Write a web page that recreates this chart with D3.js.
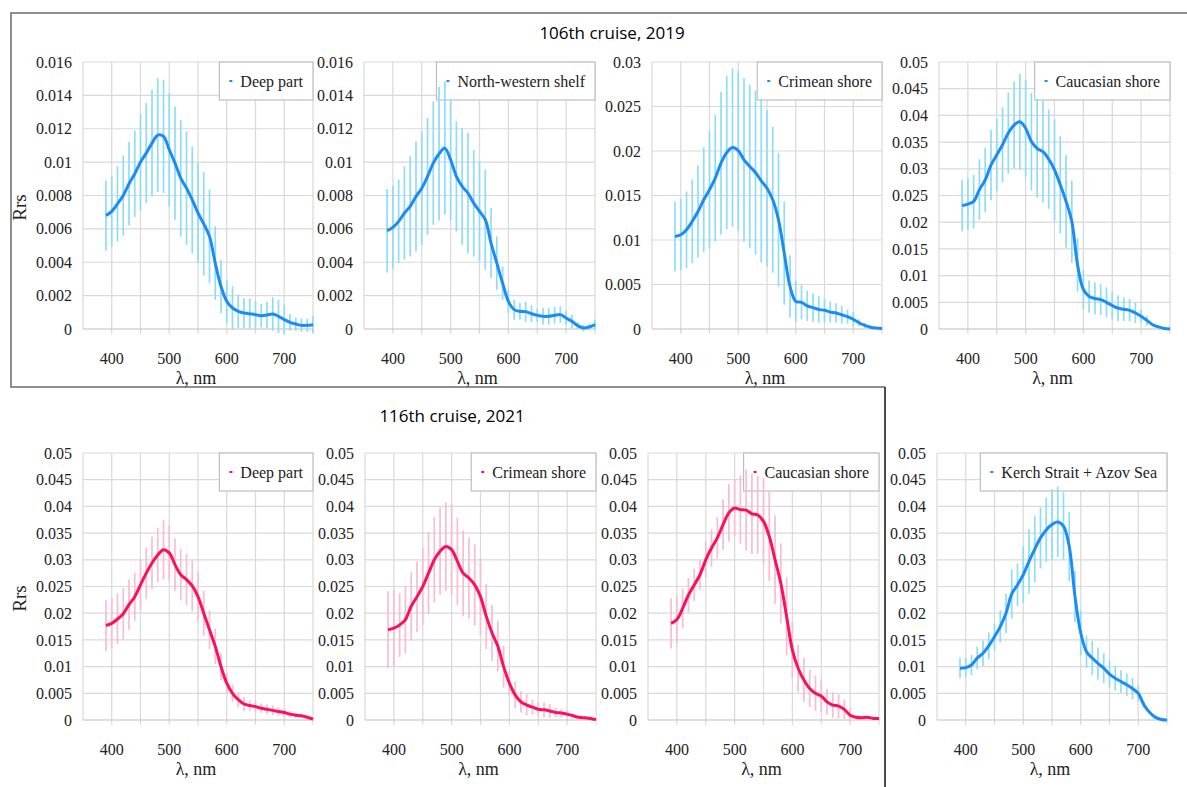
<!doctype html>
<meta charset="utf-8">
<title>Rrs spectra, 106th and 116th cruises</title>
<style>
body { margin: 0; background: #fff; }
svg text { font-family: "Liberation Serif", serif; }
svg text.title { font-family: "Open Sans", sans-serif; font-size: 17px; }
</style>
<script src="https://cdn.jsdelivr.net/npm/d3@7"></script>
<body>
<svg id="chart" width="1187" height="787"></svg>
<script>
// wavelength categories, nm
var wavelengths = [390,400,410,420,430,440,450,460,470,480,490,500,510,520,530,540,550,560,570,580,
                   590,600,610,620,630,640,650,660,670,680,690,700,710,720,730,740,750];

// 106th cruise, 2019
var deep2019Mean = [0.0068,0.00705,0.0075,0.0080,0.0087,0.0093,0.0100,0.01054,0.01114,0.01162,0.01154,0.01074,0.00994,0.00904,0.00844,0.00774,0.00695,0.0063,0.00555,0.00395,
                    0.00255,0.00166,0.00126,0.00106,0.00096,0.00092,0.00086,0.0008,0.00084,0.0009,0.00076,0.00056,0.0004,0.0003,0.00022,0.00022,0.00026];
var deep2019Sd   = [0.0021,0.0021,0.00225,0.0024,0.0025,0.0026,0.0029,0.0030,0.0032,0.0034,0.0034,0.0034,0.0034,0.0035,0.0034,0.0032,0.0030,0.0031,0.0028,0.0022,
                    0.0016,0.0013,0.0013,0.0010,0.0009,0.0009,0.0008,0.0007,0.0008,0.0010,0.0010,0.0009,0.0005,0.0004,0.0004,0.0004,0.0005];

var nwShelf2019Mean = [0.00589,0.00609,0.00645,0.00695,0.00735,0.00794,0.00844,0.00914,0.00994,0.0105,0.01084,0.01014,0.00914,0.00854,0.00814,0.00754,0.00705,0.00655,0.00515,0.00395,
                       0.00275,0.00166,0.00116,0.00106,0.00104,0.00092,0.00082,0.00076,0.00076,0.00082,0.00086,0.00066,0.00046,0.0002,0.00006,0.00012,0.00026];
var nwShelf2019Sd   = [0.0025,0.0025,0.0025,0.0028,0.0030,0.0033,0.0034,0.0035,0.0037,0.0040,0.0040,0.0036,0.0033,0.0035,0.0036,0.0032,0.0030,0.0030,0.0021,0.0016,
                       0.0010,0.0007,0.0006,0.0005,0.0006,0.0005,0.0004,0.0005,0.0005,0.0005,0.0005,0.0004,0.0004,0.0002,0.0002,0.0002,0.0003];

var crimea2019Mean = [0.0104,0.01059,0.01115,0.0121,0.0132,0.01452,0.01564,0.01695,0.01863,0.01983,0.02039,0.02005,0.019,0.01826,0.01758,0.01665,0.01582,0.01452,0.01227,0.00853,
                      0.00479,0.0031,0.0030,0.0026,0.0024,0.0022,0.0021,0.0019,0.0018,0.0016,0.0014,0.0011,0.0007,0.0004,0.0002,0.0001,0.00005];
var crimea2019Sd   = [0.0039,0.0040,0.0043,0.0047,0.0052,0.0059,0.0066,0.0071,0.0080,0.0086,0.0089,0.0090,0.0092,0.0092,0.0092,0.0092,0.0088,0.0082,0.0075,0.0058,
                      0.0035,0.0023,0.0019,0.0017,0.0016,0.0015,0.0013,0.0012,0.0011,0.0010,0.0008,0.0008,0.0004,0.0003,0.0002,0.0001,0.0001];

var caucasus2019Mean = [0.0231,0.0234,0.0239,0.0261,0.0279,0.0307,0.0326,0.0345,0.0367,0.0382,0.0388,0.0376,0.0351,0.0338,0.0332,0.0318,0.0298,0.0270,0.0239,0.0201,
                        0.0120,0.0074,0.0061,0.0057,0.0055,0.0050,0.0044,0.0039,0.0037,0.0035,0.0030,0.0024,0.0016,0.0008,0.0004,0.0001,0.0];
var caucasus2019Sd   = [0.0048,0.0048,0.0050,0.0057,0.0060,0.0066,0.0068,0.0070,0.0076,0.0081,0.0090,0.0091,0.0091,0.0092,0.0095,0.0093,0.0095,0.0091,0.0087,0.0077,
                        0.0050,0.0037,0.0030,0.0030,0.0029,0.0028,0.0026,0.0024,0.0022,0.0021,0.0019,0.0012,0.0009,0.0003,0.0002,0.0001,0.0001];

// 116th cruise, 2021
var deep2021Mean = [0.0177,0.0181,0.0189,0.0199,0.0216,0.0231,0.0253,0.0275,0.0294,0.0309,0.0319,0.0313,0.0291,0.0272,0.0263,0.0251,0.0231,0.0200,0.0169,0.0138,
                    0.0100,0.0069,0.0050,0.0038,0.0030,0.0027,0.0025,0.0022,0.0020,0.0018,0.0016,0.0014,0.0011,0.0009,0.0008,0.0005,0.0002];
var deep2021Sd   = [0.0048,0.0047,0.0047,0.0048,0.0047,0.0045,0.0047,0.0048,0.0049,0.0051,0.0056,0.0052,0.0049,0.0048,0.0048,0.0048,0.0046,0.0042,0.0036,0.0033,
                    0.0025,0.0018,0.0016,0.0014,0.0013,0.0010,0.0010,0.0009,0.0009,0.0009,0.0008,0.0007,0.0006,0.0005,0.0004,0.0004,0.0002];

var crimea2021Mean = [0.0169,0.0172,0.0178,0.0188,0.0213,0.0231,0.0250,0.0275,0.0300,0.0316,0.0325,0.0319,0.0297,0.0275,0.0266,0.0253,0.0231,0.0194,0.0163,0.0138,
                      0.0100,0.0069,0.0047,0.0034,0.0028,0.0024,0.0020,0.0019,0.0017,0.0014,0.0013,0.0011,0.0008,0.0005,0.0004,0.0003,0.0001];
var crimea2021Sd   = [0.0072,0.0072,0.0060,0.0063,0.0064,0.0066,0.0072,0.0077,0.0080,0.0082,0.0083,0.0085,0.0082,0.0080,0.0076,0.0076,0.0072,0.0061,0.0053,0.0047,
                      0.0039,0.0022,0.0025,0.0020,0.0020,0.0014,0.0013,0.0014,0.0013,0.0009,0.0008,0.0006,0.0004,0.0003,0.0003,0.0002,0.0001];

var caucasus2021Mean = [0.0181,0.0188,0.0209,0.0234,0.0253,0.0272,0.0300,0.0322,0.0341,0.0366,0.0388,0.0397,0.0394,0.0393,0.0386,0.0384,0.0372,0.0344,0.0300,0.0256,
                        0.0194,0.0131,0.0097,0.0075,0.0059,0.0050,0.0045,0.0034,0.0028,0.0026,0.0020,0.0009,0.0005,0.0004,0.0005,0.0003,0.0003];
var caucasus2021Sd   = [0.0047,0.0044,0.0037,0.0032,0.0030,0.0028,0.0034,0.0035,0.0039,0.0047,0.0054,0.0053,0.0064,0.0076,0.0075,0.0073,0.0081,0.0084,0.0083,0.0075,
                        0.0073,0.0052,0.0044,0.0041,0.0035,0.0033,0.0030,0.0024,0.0024,0.0022,0.0018,0.0013,0.0003,0.0003,0.0003,0.0002,0.0002];

var kerchAzov2021Mean = [0.0097,0.0098,0.0103,0.0116,0.0125,0.0139,0.0156,0.0175,0.0200,0.0236,0.0253,0.0272,0.0297,0.0320,0.0341,0.0356,0.0366,0.0371,0.0363,0.0325,
                         0.0231,0.0163,0.0128,0.0116,0.0106,0.0097,0.0086,0.0078,0.0072,0.0066,0.0059,0.0050,0.0028,0.0014,0.0005,0.0001,0.0];
var kerchAzov2021Sd   = [0.0019,0.0018,0.0019,0.0021,0.0024,0.0025,0.0025,0.0030,0.0037,0.0046,0.0040,0.0053,0.0060,0.0062,0.0057,0.0060,0.0066,0.0066,0.0063,0.0065,
                         0.0048,0.0042,0.0030,0.0032,0.0030,0.0028,0.0025,0.0023,0.0021,0.0021,0.0020,0.0015,0.0006,0.0003,0.0002,0.0001,0.0001];

var xTickLabels = [400, 500, 600, 700];
var xGrid = [350, 400, 450, 500, 550, 600, 650, 700, 750];

var blue = {line: "#1b8cf5", bar: "#8fdcf7"};
var pink = {line: "#fb0f5e", bar: "#f8bdd0"};

var rows = [{top: 62, bottom: 329}, {top: 453, bottom: 720}];

var panels = [
  {label: "Deep part",            mean: deep2019Mean,      sd: deep2019Sd,      ymax: 0.016, step: 0.002, c: blue, row: 0, x0: 83,  x1: 313, ylab: true},
  {label: "North-western shelf",  mean: nwShelf2019Mean,   sd: nwShelf2019Sd,   ymax: 0.016, step: 0.002, c: blue, row: 0, x0: 364, x1: 595},
  {label: "Crimean shore",        mean: crimea2019Mean,    sd: crimea2019Sd,    ymax: 0.03,  step: 0.005, c: blue, row: 0, x0: 652, x1: 882},
  {label: "Caucasian shore",      mean: caucasus2019Mean,  sd: caucasus2019Sd,  ymax: 0.05,  step: 0.005, c: blue, row: 0, x0: 939, x1: 1170},
  {label: "Deep part",            mean: deep2021Mean,      sd: deep2021Sd,      ymax: 0.05,  step: 0.005, c: pink, row: 1, x0: 83,  x1: 313, ylab: true},
  {label: "Crimean shore",        mean: crimea2021Mean,    sd: crimea2021Sd,    ymax: 0.05,  step: 0.005, c: pink, row: 1, x0: 365, x1: 596},
  {label: "Caucasian shore",      mean: caucasus2021Mean,  sd: caucasus2021Sd,  ymax: 0.05,  step: 0.005, c: pink, row: 1, x0: 648, x1: 879},
  {label: "Kerch Strait + Azov Sea", mean: kerchAzov2021Mean, sd: kerchAzov2021Sd, ymax: 0.05, step: 0.005, c: blue, row: 1, x0: 937, x1: 1167}
];

var svg = d3.select("#chart");

// frames round the two cruises
var frame = svg.append("g").attr("fill", "none");
frame.append("path").attr("d", "M1187,13H11V387H885").attr("stroke", "#6b6b6b").attr("stroke-width", 1.5);
frame.append("path").attr("d", "M885,387V787").attr("stroke", "#111").attr("stroke-width", 1.5);

svg.append("text").attr("class", "title").attr("x", 612).attr("y", 39)
  .attr("text-anchor", "middle").text("106th cruise, 2019");
svg.append("text").attr("class", "title").attr("x", 452).attr("y", 422)
  .attr("text-anchor", "middle").text("116th cruise, 2021");

var fmt = function(d) { return String(+d.toFixed(4)); };

panels.forEach(function(p) {
  var r = rows[p.row];
  var x = d3.scaleLinear().domain([350, 750]).range([p.x0, p.x1]);
  var y = d3.scaleLinear().domain([0, p.ymax]).range([r.bottom, r.top]);
  var yTicks = d3.range(0, Math.round(p.ymax / p.step) + 1).map(function(i) { return i * p.step; });
  var g = svg.append("g");

  // grid
  g.selectAll(".hg").data(yTicks.slice(1)).enter().append("line")
    .attr("x1", p.x0).attr("x2", p.x1)
    .attr("y1", function(d) { return y(d); }).attr("y2", function(d) { return y(d); })
    .attr("stroke", "#d9d9d9").attr("stroke-width", 1.2);
  g.selectAll(".vg").data(xGrid).enter().append("line")
    .attr("x1", function(d) { return x(d); }).attr("x2", function(d) { return x(d); })
    .attr("y1", r.top).attr("y2", function(d) { return d === 350 ? r.bottom : r.bottom + 5; })
    .attr("stroke", "#d9d9d9").attr("stroke-width", 1.2);
  g.append("line").attr("x1", p.x0).attr("x2", p.x1).attr("y1", r.bottom).attr("y2", r.bottom)
    .attr("stroke", "#bfbfbf").attr("stroke-width", 1.2);

  // y tick labels
  g.selectAll(".yl").data(yTicks).enter().append("text")
    .attr("x", p.x0 - 11).attr("y", function(d) { return y(d); }).attr("dy", "0.35em")
    .attr("text-anchor", "end").attr("font-size", 16).attr("fill", "#222")
    .text(fmt);

  // x tick labels and title
  g.selectAll(".xl").data(xTickLabels).enter().append("text")
    .attr("x", function(d) { return x(d); }).attr("y", r.bottom + 35)
    .attr("text-anchor", "middle").attr("font-size", 16).attr("fill", "#222")
    .text(function(d) { return d; });
  g.append("text").attr("x", (p.x0 + p.x1) / 2 - 2).attr("y", r.bottom + 55)
    .attr("text-anchor", "middle").attr("font-size", 18).attr("fill", "#222")
    .text("λ, nm");

  if (p.ylab) {
    g.append("text").attr("transform", "translate(26," + ((r.top + r.bottom) / 2 + 12) + ") rotate(-90)")
      .attr("text-anchor", "middle").attr("font-size", 19).attr("fill", "#222").text("Rrs");
  }

  // legend (data is drawn over it)
  var lg = g.append("g");
  var lt = lg.append("text").attr("font-size", 16).attr("fill", "#222").text(p.label);
  var tw = lt.node().getComputedTextLength();
  var lw = tw + 31;
  var lx = p.x1 - lw;
  lg.insert("rect", "text").attr("x", lx).attr("y", r.top).attr("width", lw).attr("height", 38)
    .attr("fill", "#fff").attr("stroke", "#bfbfbf").attr("stroke-width", 1.2);
  lg.append("line").attr("x1", lx + 10).attr("x2", lx + 13).attr("y1", r.top + 19).attr("y2", r.top + 19)
    .attr("stroke", p.c.line).attr("stroke-width", 2);
  lt.attr("x", lx + 21).attr("y", r.top + 25);

  // error bars
  g.selectAll(".eb").data(wavelengths).enter().append("line")
    .attr("x1", function(d) { return x(d); }).attr("x2", function(d) { return x(d); })
    .attr("y1", function(d, i) { return y(p.mean[i] - p.sd[i]); })
    .attr("y2", function(d, i) { return y(p.mean[i] + p.sd[i]); })
    .attr("stroke", p.c.bar).attr("stroke-width", 1.7);

  // mean spectrum
  var line = d3.line()
    .x(function(d) { return x(d); })
    .y(function(d, i) { return y(p.mean[i]); })
    .curve(d3.curveCatmullRom.alpha(0.5));
  g.append("path").datum(wavelengths).attr("d", line)
    .attr("fill", "none").attr("stroke", p.c.line).attr("stroke-width", 3)
    .attr("stroke-linejoin", "round");
});
</script>
</body>
